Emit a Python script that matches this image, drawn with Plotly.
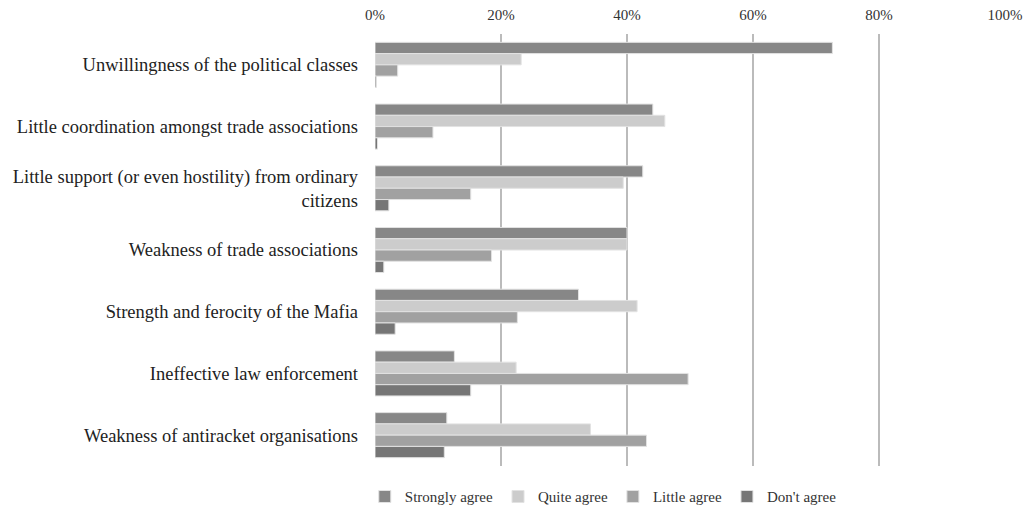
import plotly.graph_objects as go

# Obstacles to anti-racket action, share of respondents per answer (%)
categories = [
    "Unwillingness of the political classes",
    "Little coordination amongst trade associations",
    "Little support (or even hostility) from ordinary<br>citizens",
    "Weakness of trade associations",
    "Strength and ferocity of the Mafia",
    "Ineffective law enforcement",
    "Weakness of antiracket organisations",
]
strongly_agree = [72.6, 44.1, 42.5, 40.0, 32.3, 12.6, 11.4]
quite_agree = [23.2, 46.0, 39.4, 40.0, 41.6, 22.4, 34.2]
little_agree = [3.6, 9.2, 15.2, 18.5, 22.6, 49.7, 43.1]
dont_agree = [0.2, 0.4, 2.2, 1.4, 3.2, 15.2, 11.0]

tick_values = [0, 20, 40, 60, 80, 100]
tick_labels = ["0%", "20%", "40%", "60%", "80%", "100%"]

series = [
    ("Strongly agree", strongly_agree, "#878787"),
    ("Quite agree", quite_agree, "#cccccc"),
    ("Little agree", little_agree, "#a1a1a1"),
    ("Don't agree", dont_agree, "#767676"),
]

fig = go.Figure()
for name, values, color in series:
    fig.add_trace(go.Bar(
        name=name,
        y=categories,
        x=values,
        orientation="h",
        marker=dict(color=color, line=dict(color="#e2e2e2", width=1)),
    ))

serif = "Liberation Serif, Times New Roman, serif"

fig.update_layout(
    width=1026,
    height=510,
    margin=dict(l=375, r=21, t=34, b=44, autoexpand=False),
    paper_bgcolor="white",
    plot_bgcolor="white",
    barmode="group",
    bargap=0.27,
    bargroupgap=0,
    font=dict(family=serif, color="#222222"),
    showlegend=True,
    legend=dict(
        orientation="h",
        x=0.588,
        xanchor="center",
        xref="container",
        y=0.026,
        yanchor="middle",
        yref="container",
        traceorder="normal",
        font=dict(family=serif, size=15, color="#333333"),
        itemwidth=30,
        tracegroupgap=0,
    ),
    xaxis=dict(
        side="top",
        range=[0, 100],
        tickvals=tick_values,
        ticktext=tick_labels,
        showgrid=True,
        gridcolor="#bbbbbb",
        gridwidth=1.5,
        zeroline=False,
        showline=False,
        ticks="",
        automargin=False,
        ticklabelstandoff=10,
        tickfont=dict(family=serif, size=15, color="#333333"),
    ),
    yaxis=dict(
        autorange="reversed",
        showgrid=False,
        zeroline=False,
        showline=False,
        ticks="",
        automargin=False,
        ticklabelstandoff=16,
        tickfont=dict(family=serif, size=18.5, color="#222222"),
    ),
)

fig.write_html("out.html")
